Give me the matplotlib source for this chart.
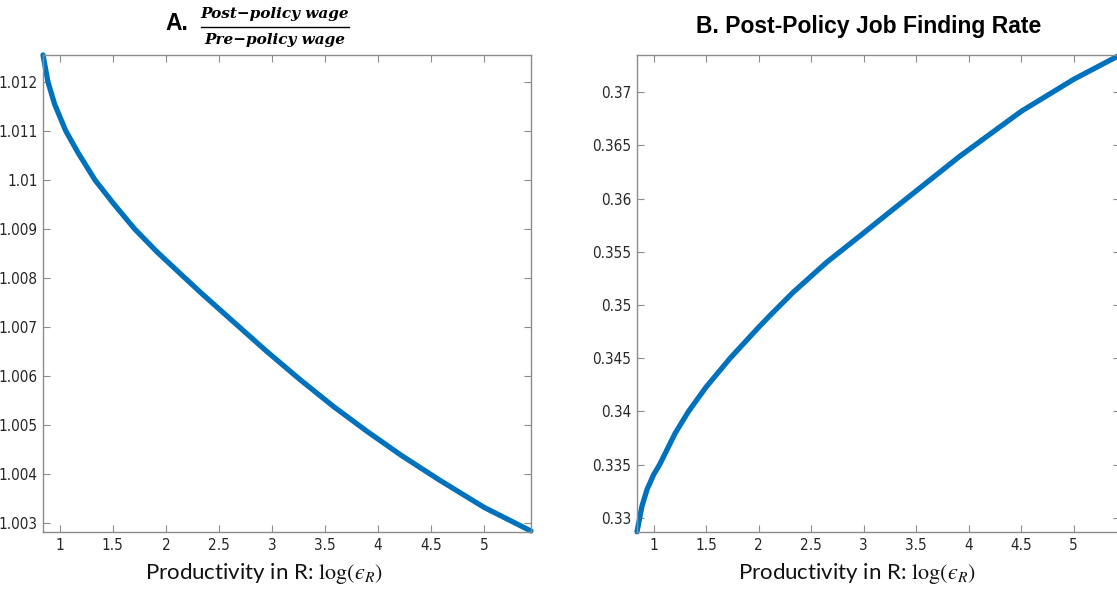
import os
import re
import matplotlib
matplotlib.use("Agg")
import matplotlib.pyplot as plt
from matplotlib.lines import Line2D
from matplotlib import font_manager as fm

# ---- data ----
wage_x = [0.842, 0.889, 0.9525, 1.057, 1.174, 1.332, 1.506, 1.706, 1.918, 2.18, 2.345, 2.63,
          2.947, 3.263, 3.579, 3.897, 4.213, 4.577, 5.0, 5.44]
wage_y = [1.01255, 1.0120, 1.01154, 1.0110, 1.01055, 1.0100, 1.00952, 1.0090, 1.00853, 1.0080,
          1.00767, 1.00712, 1.00651, 1.00593, 1.00538, 1.00487, 1.00439, 1.00388, 1.00332, 1.00284]

jfr_x = [0.842, 0.889, 0.937, 1.0, 1.057, 1.127, 1.206, 1.332, 1.5, 1.728, 2.0, 2.109, 2.331,
         2.648, 2.965, 3.281, 3.599, 3.915, 4.264, 4.5, 5.0, 5.44]
jfr_y = [0.32870, 0.3311, 0.33266, 0.33406, 0.3350, 0.3364, 0.33797, 0.3400, 0.3423, 0.3450,
         0.34791, 0.34903, 0.35122, 0.35402, 0.35650, 0.35900, 0.36150, 0.36398, 0.36650,
         0.36820, 0.37121, 0.37349]

x_ticks = [1, 1.5, 2, 2.5, 3, 3.5, 4, 4.5, 5]
x_tick_labels = ["1", "1.5", "2", "2.5", "3", "3.5", "4", "4.5", "5"]
wage_ticks = [1.003, 1.004, 1.005, 1.006, 1.007, 1.008, 1.009, 1.010, 1.011, 1.012]
wage_tick_labels = ["1.003", "1.004", "1.005", "1.006", "1.007", "1.008", "1.009", "1.01", "1.011", "1.012"]
jfr_ticks = [0.33, 0.335, 0.34, 0.345, 0.35, 0.355, 0.36, 0.365, 0.37]
jfr_tick_labels = ["0.33", "0.335", "0.34", "0.345", "0.35", "0.355", "0.36", "0.365", "0.37"]

title_a_num = "Post\u2212policy wage"
title_a_den = "Pre\u2212policy wage"
title_b = "B. Post-Policy Job Finding Rate"
xlabel = "Productivity in R: $\\log(\u03f5_R)$"

W, H = 1117, 589
plt.rcParams['mathtext.fontset'] = 'stix'
fig = plt.figure(figsize=(W / 100, H / 100), dpi=100)

LINE_C = "#0072BD"
SPINE_C = "#8c8c8c"
TICKLAB_C = "#262626"


# find a condensed sans font for the MATLAB-like tick labels
def find_condensed():
    patterns = [r'LiberationSansNarrow-Regular', r'DejaVuSansCondensed\.ttf',
                r'NotoSans-Condensed\.ttf', r'NotoSans-SemiCondensed\.ttf',
                r'RobotoCondensed-Regular', r'OpenSans.?Condensed-Regular',
                r'Roboto_Condensed-Regular', r'ArialNarrow']
    files = [f.fname for f in fm.fontManager.ttflist]
    for p in patterns:
        for fn in files:
            if re.search(p, os.path.basename(fn)):
                return fn
    return None


cond = find_condensed()
if cond:
    tick_fp = fm.FontProperties(fname=cond, size=11)
else:
    tick_fp = fm.FontProperties(family=['Liberation Sans', 'DejaVu Sans'], size=9)


def px_box(x0, y0, x1, y1):
    return [x0 / W, 1 - y1 / H, (x1 - x0) / W, (y1 - y0) / H]


def style(ax, yt, ytl, label_x):
    ax.set_xlim(0.842, 5.44)
    ax.set_xticks(x_ticks)
    ax.set_xticklabels(x_tick_labels, fontproperties=tick_fp, color=TICKLAB_C)
    ax.set_yticks(yt)
    ax.set_yticklabels(ytl, fontproperties=tick_fp, color=TICKLAB_C)
    ax.tick_params(direction='in', length=5, width=0.8, color=SPINE_C,
                   top=True, right=True, pad=4)
    for s in ax.spines.values():
        s.set_color(SPINE_C)
        s.set_linewidth(1.0)
    ax.set_xlabel(xlabel, family=['Lato', 'DejaVu Sans'], fontsize=16, color="#111111")
    ax.xaxis.set_label_coords(label_x, -0.06)


ax1 = fig.add_axes(px_box(43, 55, 531, 532))
ax1.plot(wage_x, wage_y, color=LINE_C, lw=3.8, solid_capstyle='round',
         solid_joinstyle='round', clip_on=False)
ax1.set_ylim(1.00282, 1.01255)
style(ax1, wage_ticks, wage_tick_labels, 0.453)

ax2 = fig.add_axes(px_box(637, 55, 1120, 532))
ax2.plot(jfr_x, jfr_y, color=LINE_C, lw=3.8, solid_capstyle='round',
         solid_joinstyle='round', clip_on=False)
ax2.set_ylim(0.32868, 0.37349)
style(ax2, jfr_ticks, jfr_tick_labels, 0.455)

# Titles
fig.text(869 / W, 1 - 27 / H, title_b, ha='center', va='center',
         family=['Liberation Sans', 'DejaVu Sans'], fontweight='bold', fontsize=16.5)

fig.text(177 / W, 1 - 24 / H, "A.", ha='center', va='center',
         family=['Liberation Sans', 'DejaVu Sans'], fontweight='bold', fontsize=16.5)
frac_font = ['DejaVu Serif']
fig.text(275 / W, 1 - 14 / H, title_a_num, ha='center', va='center',
         family=frac_font, fontweight='bold', fontstyle='italic', fontsize=11)
fig.text(275 / W, 1 - 40 / H, title_a_den, ha='center', va='center',
         family=frac_font, fontweight='bold', fontstyle='italic', fontsize=11)
fig.add_artist(Line2D([201 / W, 349 / W], [1 - 27 / H, 1 - 27 / H], color='black', lw=1.0,
                      transform=fig.transFigure))

fig.savefig("out.png", dpi=100)
